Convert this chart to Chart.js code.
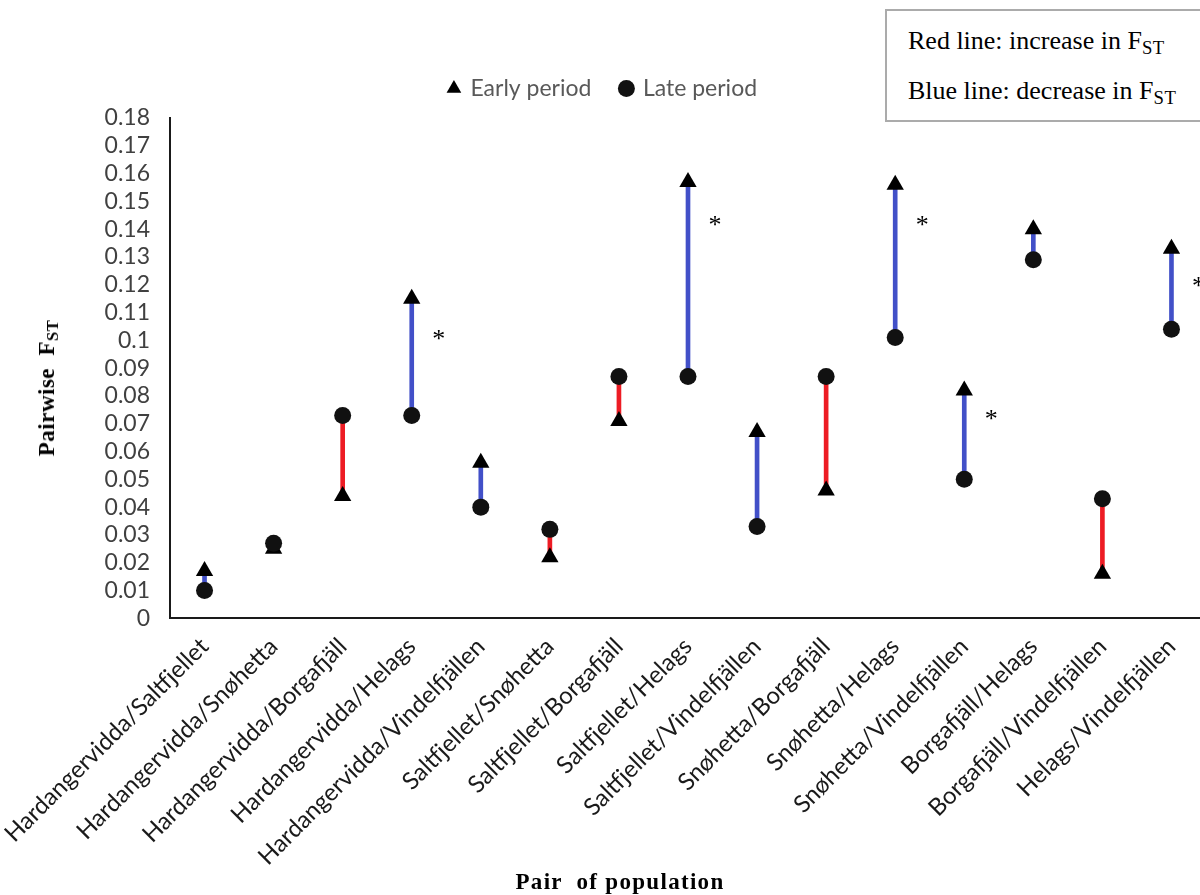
<!DOCTYPE html>
<html>
<head>
<meta charset="utf-8">
<script src="https://cdn.jsdelivr.net/npm/chart.js@4.4.1/dist/chart.umd.min.js"></script>
<style>
  html, body { margin: 0; padding: 0; overflow: hidden; background: #fff; width: 1200px; height: 895px; }
  #wrap { position: absolute; left: 0; top: 0; width: 1206px; height: 895px; }
  #ytitle { position: absolute; left: 47px; top: 388px; transform: translate(-50%, -50%) rotate(-90deg);
    font-family: "Liberation Serif", "Times New Roman", serif; font-weight: bold; font-size: 23px; letter-spacing: 0.5px; color: #000; white-space: pre; }
  #xtitle { position: absolute; left: 620px; top: 882px; transform: translate(-50%, -50%);
    font-family: "Liberation Serif", "Times New Roman", serif; font-weight: bold; font-size: 23px; letter-spacing: 1.3px; color: #000; white-space: pre; }
  sub { font-size: 0.72em; vertical-align: -0.25em; line-height: 0; letter-spacing: 0.5px; }
  #note { position: absolute; left: 885px; top: 9px; width: 330px; height: 113px; border: 2px solid #ababab; box-sizing: border-box;
    font-family: "Liberation Serif", "Times New Roman", serif; font-size: 26px; line-height: 26px; color: #000; background: #fff; }
  #note div { position: absolute; left: 21px; white-space: nowrap; }
</style>
</head>
<body>
<div id="wrap"><canvas id="c"></canvas></div>
<div id="ytitle">Pairwise  F<sub>ST</sub></div>
<div id="xtitle">Pair  of population</div>
<div id="note">
  <div style="top:17px">Red line: increase in F<sub>ST</sub></div>
  <div style="top:67px">Blue line: decrease in F<sub>ST</sub></div>
</div>
<script>
const categories = [
  "Hardangervidda/Saltfjellet", "Hardangervidda/Snøhetta", "Hardangervidda/Borgafjäll",
  "Hardangervidda/Helags", "Hardangervidda/Vindelfjällen", "Saltfjellet/Snøhetta",
  "Saltfjellet/Borgafjäll", "Saltfjellet/Helags", "Saltfjellet/Vindelfjällen",
  "Snøhetta/Borgafjäll", "Snøhetta/Helags", "Snøhetta/Vindelfjällen",
  "Borgafjäll/Helags", "Borgafjäll/Vindelfjällen", "Helags/Vindelfjällen"
];
const earlyPeriod = [0.017, 0.025, 0.044, 0.115, 0.056, 0.022, 0.071, 0.157, 0.067, 0.046, 0.156, 0.082, 0.140, 0.016, 0.133];
const latePeriod  = [0.010, 0.027, 0.073, 0.073, 0.040, 0.032, 0.087, 0.087, 0.033, 0.087, 0.101, 0.050, 0.129, 0.043, 0.104];
// significance markers: category index and height of the asterisk
const sigIndex = [3, 7, 10, 11, 14];
const sigValue = [0.102, 0.143, 0.143, 0.073, 0.121];
const yTicks = [0, 0.01, 0.02, 0.03, 0.04, 0.05, 0.06, 0.07, 0.08, 0.09, 0.1, 0.11, 0.12, 0.13, 0.14, 0.15, 0.16, 0.17, 0.18];

const RED = "rgb(237,28,36)";
const BLUE = "rgb(66,80,200)";
const changeColors = earlyPeriod.map((e, i) => latePeriod[i] > e ? RED : BLUE);

const starPlugin = {
  id: "stars",
  afterDatasetsDraw(chart) {
    const ctx = chart.ctx, xs = chart.scales.x, ys = chart.scales.y;
    ctx.save();
    ctx.fillStyle = "#000";
    ctx.font = "26px 'Liberation Serif', serif";
    ctx.textAlign = "center";
    ctx.textBaseline = "middle";
    sigIndex.forEach((idx, k) => {
      const x = xs.getPixelForValue(idx) + 27;
      const y = ys.getPixelForValue(sigValue[k]) + 5;
      ctx.fillText("*", x, y);
    });
    ctx.restore();
  }
};

// extra space between legend and plot
const legendGap = {
  id: "legendGap",
  beforeInit(chart) {
    const origFit = chart.legend.fit;
    chart.legend.fit = function () {
      origFit.call(this);
      this.height += 8;
    };
  }
};

new Chart(document.getElementById("c"), {
  type: "bar",
  data: {
    labels: categories,
    datasets: [
      {
        type: "line", label: "Early period", data: earlyPeriod, showLine: false,
        pointStyle: "triangle", pointRadius: 10, pointHoverRadius: 10,
        backgroundColor: "#000", borderColor: "#000", borderWidth: 0, order: 1
      },
      {
        type: "line", label: "Late period", data: latePeriod, showLine: false,
        pointStyle: "circle", pointRadius: 8.5, pointHoverRadius: 8.5,
        backgroundColor: "#111", borderColor: "#111", borderWidth: 0, order: 0
      },
      {
        type: "bar", label: "change", data: earlyPeriod.map((e, i) => [e, latePeriod[i]]),
        backgroundColor: changeColors, borderWidth: 0, barThickness: 4, order: 5
      }
    ]
  },
  options: {
    responsive: true, maintainAspectRatio: false, animation: false,
    layout: { autoPadding: false, padding: { left: 0, right: 0, top: 47, bottom: 10 } },
    plugins: {
      tooltip: { enabled: false },
      legend: {
        position: "top",
        labels: {
          filter: (item) => item.datasetIndex < 2,
          sort: (a, b) => a.datasetIndex - b.datasetIndex,
          usePointStyle: true, boxHeight: 12, boxWidth: 10,
          color: "#595959", padding: 30,
          font: { family: "Lato", size: 23 }
        }
      }
    },
    scales: {
      x: {
        afterFit: (axis) => { axis.paddingLeft = 0; axis.paddingRight = 0; },
        grid: { display: false, drawTicks: false },
        border: { display: true, color: "#1a1a1a", width: 2 },
        ticks: {
          color: "#1a1a1a", font: { family: "Lato", size: 24 },
          maxRotation: 45, minRotation: 45, autoSkip: false, padding: 14
        }
      },
      y: {
        min: 0, max: 0.18,
        afterBuildTicks: (axis) => { axis.ticks = yTicks.map(v => ({ value: v })); },
        afterFit: (axis) => { axis.width = 170; },
        grid: { display: false, drawTicks: false },
        border: { display: true, color: "#1a1a1a", width: 2 },
        ticks: {
          color: "#404040", font: { family: "Lato", size: 23 }, padding: 20, autoSkip: false,
          callback: (v) => String(+Number(v).toFixed(2))
        }
      }
    }
  },
  plugins: [starPlugin, legendGap]
});
</script>
</body>
</html>
